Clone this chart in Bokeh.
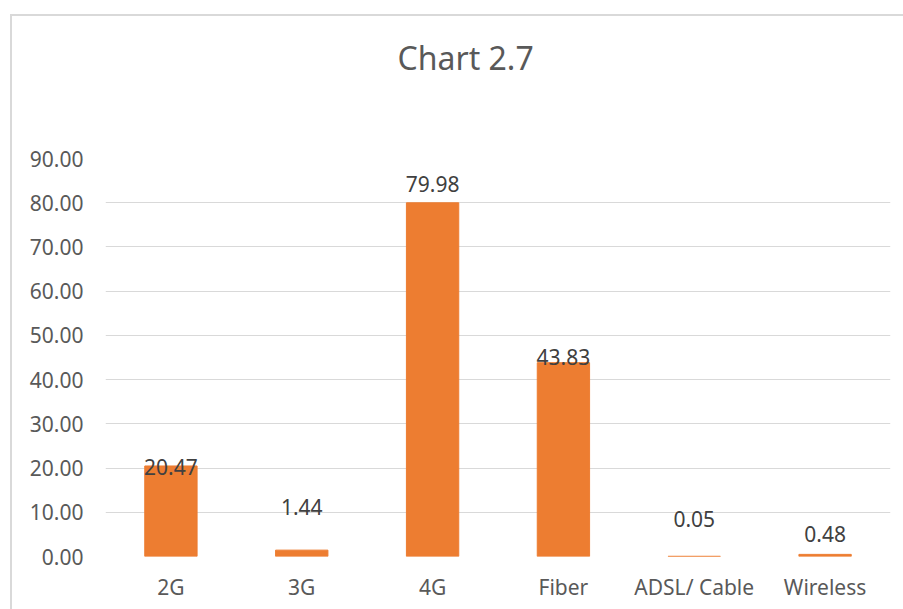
from bokeh.plotting import figure
from bokeh.models import (FactorRange, Range1d, FixedTicker, NumeralTickFormatter,
                          ColumnDataSource)
from bokeh.core.properties import value
from bokeh.embed import file_html
from bokeh.resources import INLINE

categories = ["2G", "3G", "4G", "Fiber", "ADSL/ Cable", "Wireless"]
values = [20.47, 1.44, 79.98, 43.83, 0.05, 0.48]
y_ticks = [0, 10, 20, 30, 40, 50, 60, 70, 80, 90]
title_text = "Chart 2.7"

# style: manual label nudges (pixels, + is down) as in the reference
label_nudge = [1.5, -43.5, -19, -6, -37, -20]

FONT = "Noto Sans"
BAR = "#ED7D31"
GRID = "#D9D9D9"
TICK = "#595959"
LABEL = "#404040"

p = figure(width=903, height=609, output_backend="svg", toolbar_location=None,
           x_range=FactorRange(*categories, range_padding=0),
           y_range=Range1d(0, 90), title=title_text)
p.min_border = 0
p.min_border_left = 105
p.min_border_right = 13
p.min_border_top = 158
p.min_border_bottom = 53
p.outline_line_color = None
p.background_fill_color = "white"
p.border_fill_color = None
p.styles = {
    "background": ("linear-gradient(#D9D9D9,#D9D9D9) 10px 14px / 2px 100% no-repeat, "
                   "linear-gradient(#D9D9D9,#D9D9D9) 10px 14px / 100% 2px no-repeat, white"),
}

p.title.align = "left"
p.title.offset = 292
p.title.vertical_align = "top"
p.title.standoff = 10
p.title.padding = dict(left=0, right=0, top=0, bottom=73)
p.title.text_font = FONT
p.title.text_font_size = "32px"
p.title.text_font_style = "normal"
p.title.text_color = TICK

src = ColumnDataSource(dict(
    x=categories, top=values,
    txt=["%.2f" % v for v in values],
    dy=label_nudge,
))

p.vbar(x="x", top="top", width=0.4, source=src, fill_color=BAR,
       line_color=BAR, line_width=1)
p.text(x="x", y="top", text="txt", y_offset="dy", source=src,
       text_align="center", text_baseline="alphabetic",
       text_font=value(FONT), text_font_size="21px", text_color=LABEL)

p.xgrid.grid_line_color = None
p.ygrid.grid_line_color = GRID
p.ygrid.grid_line_width = 1

p.yaxis.ticker = FixedTicker(ticks=y_ticks)
p.yaxis.formatter = NumeralTickFormatter(format="0.00")
for ax in (p.xaxis, p.yaxis):
    ax.axis_line_color = None
    ax.major_tick_line_color = None
    ax.minor_tick_line_color = None
    ax.major_tick_out = 0
    ax.major_tick_in = 0
    ax.major_label_text_font = FONT
    ax.major_label_text_font_size = "21px"
    ax.major_label_text_color = TICK
p.yaxis.major_label_standoff = 22
p.xaxis.major_label_standoff = 16

open("out.html", "w").write(file_html(p, INLINE))
